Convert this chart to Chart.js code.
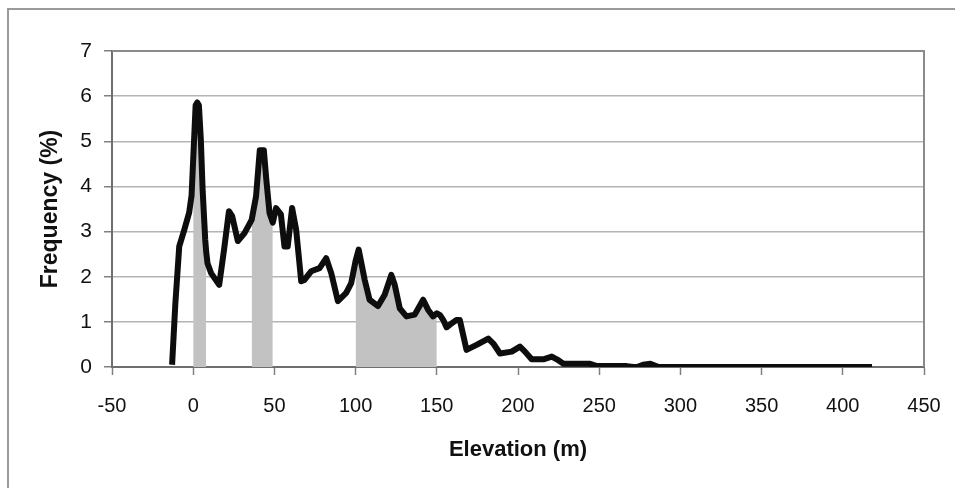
<!DOCTYPE html>
<html>
<head>
<meta charset="utf-8">
<script src="https://cdn.jsdelivr.net/npm/chart.js@4.4.1/dist/chart.umd.min.js"></script>
<style>
  html, body { margin: 0; padding: 0; background: #fff; }
  #chart { display: block; }
</style>
</head>
<body>
<canvas id="chart" width="955" height="488"></canvas>
<script>
    "use strict";

    // Elevation (m) and frequency (%)
    var elevation = [-13, -11, -8.6, -5.5, -2.5, -1, 0, 1.5, 2.5, 3.5, 4.7, 5.8, 7.4, 8, 8.8, 11, 16, 19, 22, 24, 27.5, 31.5,
        36, 38.7, 41, 43.5, 45, 47, 49, 51, 54, 56.2, 58.2, 60.9, 63.4, 66.5, 68.5, 72.6, 77.8, 81.9, 85, 89.1,
        94.2, 97.3, 100, 101.9, 105.6, 108.6, 113.8, 117.9, 122, 124.1, 127.2, 131.3, 136.4, 141.6, 144.6, 147.7,
        150, 152, 154, 156, 158.5, 162.1, 164.2, 168.3, 174.5, 181.7, 184.8, 188.9, 196.1, 201.2, 204.3, 208.4,
        215.6, 220.8, 223.9, 228, 244.4, 248.6, 267, 271, 273.3, 277, 281.5, 286.6, 418];
    var frequency = [0.05, 1.4, 2.67, 3.04, 3.42, 3.8, 4.6, 5.8, 5.86, 5.8, 5.04, 3.93, 2.82, 2.55, 2.3, 2.08, 1.82, 2.6, 3.45, 3.34, 2.79, 2.96,
        3.26, 3.78, 4.8, 4.8, 4.16, 3.41, 3.2, 3.52, 3.38, 2.67, 2.67, 3.52, 3.04, 1.9, 1.93, 2.12, 2.19, 2.41, 2.08, 1.46,
        1.64, 1.86, 2.35, 2.6, 1.93, 1.49, 1.35, 1.6, 2.04, 1.82, 1.3, 1.12, 1.16, 1.49, 1.27, 1.12,
        1.19, 1.15, 1.04, 0.88, 0.95, 1.04, 1.04, 0.38, 0.49, 0.63, 0.52, 0.3, 0.34, 0.45, 0.34, 0.17,
        0.17, 0.23, 0.17, 0.07, 0.07, 0.02, 0.02, 0, 0, 0.05, 0.07, 0, 0];

    // Shaded elevation bands
    var bands = [[0, 8], [36, 49], [100, 150]];

    var xTicks = [-50, 0, 50, 100, 150, 200, 250, 300, 350, 400, 450];
    var yTicks = [0, 1, 2, 3, 4, 5, 6, 7];

    var FONT = "'Liberation Sans', Arial, sans-serif";

    var curve = elevation.map(function (x, i) { return {x: x, y: frequency[i]}; });

    // points inside each band, with a gap between bands
    var shaded = [];
    bands.forEach(function (b, k) {
        if (k > 0) shaded.push({x: (bands[k - 1][1] + b[0]) / 2, y: null});
        curve.forEach(function (p) {
            if (p.x >= b[0] && p.x <= b[1]) shaded.push(p);
        });
    });

    // outer frame and plot box
    var frame = {
        id: 'frame',
        afterDraw: function (chart) {
            var ctx = chart.ctx, a = chart.chartArea;
            ctx.save();
            ctx.strokeStyle = '#9a9a9a';
            ctx.lineWidth = 2;
            ctx.beginPath();
            ctx.moveTo(8, 488);
            ctx.lineTo(8, 9);
            ctx.lineTo(955, 9);
            ctx.stroke();
            ctx.strokeStyle = '#8a8a8a';
            ctx.beginPath();
            ctx.moveTo(a.left, a.top);
            ctx.lineTo(a.right, a.top);
            ctx.lineTo(a.right, a.bottom);
            ctx.stroke();
            ctx.restore();
        }
    };

    new Chart(document.getElementById('chart'), {
        type: 'line',
        data: {
            datasets: [{
                data: curve,
                borderColor: '#0d0d0d',
                borderWidth: 6,
                borderJoinStyle: 'round',
                pointRadius: 0,
                tension: 0,
                fill: false
            }, {
                data: shaded,
                borderWidth: 0,
                borderColor: 'rgba(0,0,0,0)',
                backgroundColor: '#c2c2c2',
                pointRadius: 0,
                tension: 0,
                spanGaps: false,
                fill: 'origin'
            }]
        },
        options: {
            responsive: false,
            animation: false,
            layout: {padding: {left: 10, top: 51, right: 31, bottom: 20}},
            plugins: {
                legend: {display: false},
                tooltip: {enabled: false}
            },
            scales: {
                x: {
                    type: 'linear',
                    min: -50,
                    max: 450,
                    afterBuildTicks: function (scale) {
                        scale.ticks = xTicks.map(function (v) { return {value: v}; });
                    },
                    afterFit: function (scale) {
                        scale.height = 101;
                        scale.paddingRight = 0;
                        scale.paddingLeft = 0;
                    },
                    grid: {drawOnChartArea: false, tickLength: 8, tickColor: '#808080', tickWidth: 1.5},
                    border: {color: '#6e6e6e', width: 2},
                    ticks: {autoSkip: false, maxRotation: 0, padding: 19, color: '#111', font: {family: FONT, size: 20}},
                    title: {
                        display: true,
                        text: 'Elevation (m)',
                        color: '#111',
                        font: {family: FONT, size: 22, weight: 'bold'},
                        padding: {top: 0, bottom: 5}
                    }
                },
                y: {
                    min: 0,
                    max: 7,
                    afterBuildTicks: function (scale) {
                        scale.ticks = yTicks.map(function (v) { return {value: v}; });
                    },
                    afterFit: function (scale) { scale.width = 102; },
                    grid: {
                        color: '#b4b4b4',
                        lineWidth: 1.5,
                        tickLength: 8,
                        tickColor: '#808080'
                    },
                    border: {color: '#6e6e6e', width: 2},
                    ticks: {padding: 12, color: '#111', font: {family: FONT, size: 21}},
                    title: {
                        display: true,
                        text: 'Frequency (%)',
                        color: '#111',
                        font: {family: FONT, size: 23, weight: 'bold'},
                        padding: {top: 27, bottom: 0}
                    }
                }
            }
        },
        plugins: [frame]
    });
</script>
</body>
</html>
